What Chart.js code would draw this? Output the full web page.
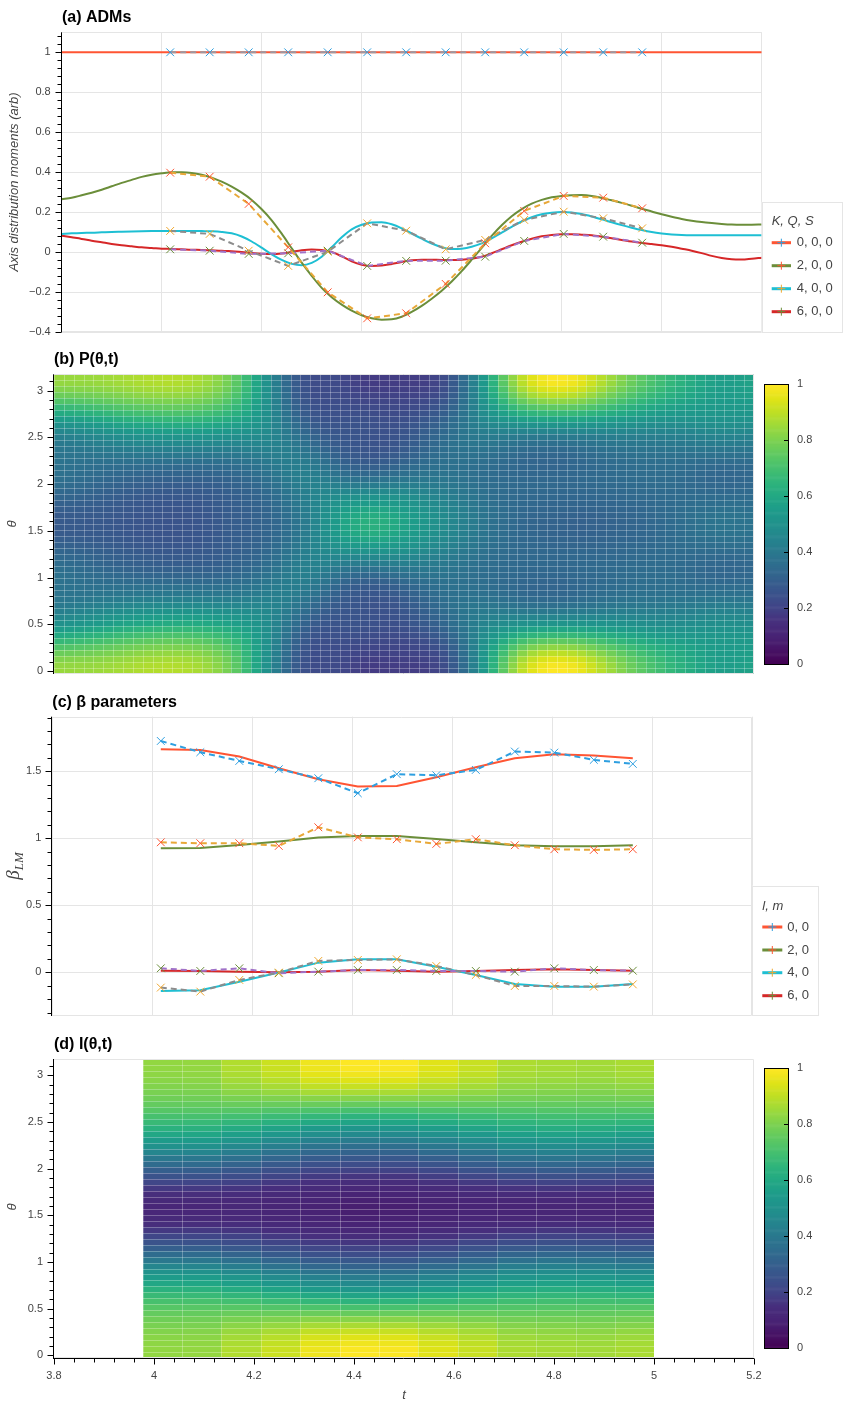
<!DOCTYPE html>
<html>
<head>
<meta charset="utf-8">
<title>ADMs, P(θ,t), β parameters, I(θ,t)</title>
<script src="https://cdn.jsdelivr.net/npm/chart.js@4.4.1/dist/chart.umd.min.js"></script>
<style>
  html, body { margin: 0; padding: 0; background: #fff; }
  #page { position: relative; width: 862px; height: 1405px; overflow: hidden; }
  #page canvas { position: absolute; left: 0; }
</style>
</head>
<body>
<div id="page">
  <canvas id="admChart" width="862" height="353" style="top:0px"></canvas>
  <canvas id="pChart" width="862" height="354" style="top:340px"></canvas>
  <canvas id="pBar" width="98" height="320" style="top:364px;left:764px"></canvas>
  <canvas id="betaChart" width="862" height="356" style="top:680px"></canvas>
  <canvas id="iChart" width="862" height="380" style="top:1025px"></canvas>
  <canvas id="iBar" width="98" height="321" style="top:1048px;left:764px"></canvas>
</div>
<script>
// ---- values ----

// (a) ADM curves, sampled every 0.02 in t
const tADM = [
  3.80, 3.82, 3.84, 3.86, 3.88, 3.90, 3.92, 3.94, 3.96, 3.98,
  4.00, 4.02, 4.04, 4.06, 4.08, 4.10, 4.12, 4.14, 4.16, 4.18,
  4.20, 4.22, 4.24, 4.26, 4.28, 4.30, 4.32, 4.34, 4.36, 4.38,
  4.40, 4.42, 4.44, 4.46, 4.48, 4.50, 4.52, 4.54, 4.56, 4.58,
  4.60, 4.62, 4.64, 4.66, 4.68, 4.70, 4.72, 4.74, 4.76, 4.78,
  4.80, 4.82, 4.84, 4.86, 4.88, 4.90, 4.92, 4.94, 4.96, 4.98,
  5.00, 5.02, 5.04, 5.06, 5.08, 5.10, 5.12, 5.14, 5.16, 5.18,
  5.20
];
const adm0 = tADM.map(() => 1);
const adm2 = [
  0.265, 0.273, 0.285, 0.298, 0.313, 0.330, 0.347, 0.362, 0.377, 0.388,
  0.395, 0.400, 0.400, 0.397, 0.388, 0.373, 0.353, 0.328, 0.298, 0.262,
  0.215, 0.160, 0.093, 0.020, -0.052, -0.118, -0.178, -0.225, -0.262, -0.292,
  -0.315, -0.330, -0.337, -0.335, -0.322, -0.298, -0.268, -0.232, -0.192, -0.146,
  -0.094, -0.037, 0.022, 0.082, 0.135, 0.180, 0.216, 0.243, 0.262, 0.275,
  0.282, 0.285, 0.286, 0.282, 0.272, 0.260, 0.247, 0.233, 0.218, 0.204,
  0.190, 0.178, 0.167, 0.158, 0.151, 0.146, 0.142, 0.139, 0.138, 0.138,
  0.139
];
const adm4 = [
  0.092, 0.095, 0.097, 0.098, 0.100, 0.102, 0.103, 0.104, 0.105, 0.106,
  0.107, 0.107, 0.107, 0.107, 0.106, 0.105, 0.102, 0.095, 0.079, 0.054,
  0.023, -0.010, -0.038, -0.058, -0.065, -0.053, -0.022, 0.025, 0.075, 0.115,
  0.138, 0.149, 0.150, 0.140, 0.120, 0.094, 0.068, 0.044, 0.026, 0.016,
  0.018, 0.028, 0.045, 0.070, 0.098, 0.127, 0.154, 0.175, 0.190, 0.198,
  0.202, 0.199, 0.191, 0.179, 0.165, 0.150, 0.136, 0.123, 0.111, 0.101,
  0.094, 0.089, 0.086, 0.085, 0.085, 0.085, 0.085, 0.085, 0.085, 0.085,
  0.085
];
const adm6 = [
  0.083, 0.075, 0.067, 0.058, 0.050, 0.042, 0.035, 0.030, 0.025, 0.022,
  0.018, 0.017, 0.015, 0.013, 0.012, 0.010, 0.008, 0.005, 0.002, -0.003,
  -0.007, -0.009, -0.006, 0.002, 0.010, 0.014, 0.012, 0.002, -0.020, -0.045,
  -0.062, -0.068, -0.066, -0.058, -0.048, -0.040, -0.037, -0.037, -0.038, -0.038,
  -0.037, -0.032, -0.022, -0.005, 0.015, 0.035, 0.053, 0.068, 0.080, 0.087,
  0.090, 0.090, 0.088, 0.085, 0.078, 0.070, 0.062, 0.054, 0.047, 0.041,
  0.035, 0.028, 0.018, 0.008, -0.004, -0.018, -0.029, -0.035, -0.036, -0.032,
  -0.027
];

// fitted values (x markers) at the measurement times
const tFit = [4.017, 4.096, 4.174, 4.253, 4.332, 4.411, 4.489, 4.568, 4.647, 4.725, 4.804, 4.883, 4.961];
const fit0 = [1, 1, 1, 1, 1, 1, 1, 1, 1, 1, 1, 1, 1];
const fit2 = [0.398, 0.378, 0.242, 0.025, -0.200, -0.330, -0.305, -0.158, 0.045, 0.207, 0.282, 0.273, 0.220];
const fit4 = [0.107, 0.092, 0.008, -0.068, 0.003, 0.145, 0.108, 0.015, 0.062, 0.162, 0.203, 0.170, 0.120];
const fit6 = [0.015, 0.008, -0.008, -0.005, 0.008, -0.068, -0.043, -0.042, -0.022, 0.057, 0.092, 0.078, 0.048];

// (c) beta parameters: model (solid) and fit (dashed, x markers)
const beta00 = [1.664, 1.659, 1.610, 1.522, 1.440, 1.386, 1.390, 1.455, 1.530, 1.597, 1.627, 1.617, 1.597];
const beta20 = [0.925, 0.928, 0.950, 0.975, 1.005, 1.017, 1.017, 0.995, 0.970, 0.948, 0.940, 0.940, 0.948];
const beta40 = [-0.139, -0.134, -0.070, -0.002, 0.072, 0.097, 0.097, 0.042, -0.020, -0.087, -0.107, -0.107, -0.087];
const beta60 = [0.012, 0.010, 0.005, 0.000, 0.005, 0.017, 0.012, 0.005, 0.010, 0.017, 0.022, 0.017, 0.012];
const betaFit00 = [1.726, 1.642, 1.577, 1.515, 1.448, 1.336, 1.478, 1.470, 1.510, 1.647, 1.639, 1.585, 1.555];
const betaFit20 = [0.970, 0.963, 0.963, 0.943, 1.082, 1.007, 0.993, 0.958, 0.993, 0.948, 0.918, 0.913, 0.918];
const betaFit40 = [-0.114, -0.144, -0.057, -0.002, 0.085, 0.092, 0.097, 0.047, -0.020, -0.102, -0.102, -0.107, -0.090];
const betaFit60 = [0.030, 0.010, 0.030, -0.007, 0.005, 0.017, 0.017, 0.010, 0.010, 0.005, 0.030, 0.017, 0.012];

// ticks and labels
const tTicks = [3.8, 4, 4.2, 4.4, 4.6, 4.8, 5, 5.2];
const admTicks = [-0.4, -0.2, 0, 0.2, 0.4, 0.6, 0.8, 1];
const thetaTicks = [0, 0.5, 1, 1.5, 2, 2.5, 3];
const betaTicks = [0, 0.5, 1, 1.5];
const barTicks = [0, 0.2, 0.4, 0.6, 0.8, 1];
const admLabels = ['0, 0, 0', '2, 0, 0', '4, 0, 0', '6, 0, 0'];
const betaLabels = ['0, 0', '2, 0', '4, 0', '6, 0'];
const degrees = [0, 2, 4, 6];

// ---- styling ----
const FONT = "'Liberation Sans', Arial, Helvetica, sans-serif";
const GRID = '#e5e5e5';
const C = {
  line: ['#ff5533', '#6b8e3a', '#1ebfd3', '#d62728'],
  dashA: ['#9a9aa4', '#e8a838', '#8c8c8c', '#a072c8'],
  dashB: ['#2e9fe0', '#e8a838', '#8c8c8c', '#a072c8'],
  mark: ['#2e9fe0', '#ff5533', '#f0a830', '#6b8e3a']
};
const VIR = ['#440154', '#471365', '#482475', '#472f7d', '#414487', '#3b528b', '#355f8d',
  '#2f6c8e', '#2a788e', '#25858e', '#21918c', '#1e9b8a', '#22a884', '#2fb47c', '#44bf70',
  '#5ec962', '#7ad151', '#9bd93c', '#bddf26', '#dfe318', '#fde725'];

Chart.defaults.font.family = FONT;
Chart.defaults.font.size = 11;
Chart.defaults.color = '#444';

function hexRgb(h) { return [1, 3, 5].map(i => parseInt(h.substr(i, 2), 16)); }
function viridis(v) {
  v = Math.min(1, Math.max(0, v));
  const f = v * (VIR.length - 1);
  const i = Math.min(VIR.length - 2, Math.floor(f));
  const u = f - i, a = hexRgb(VIR[i]), b = hexRgb(VIR[i + 1]);
  return 'rgb(' + a.map((c, k) => Math.round(c + (b[k] - c) * u)).join(',') + ')';
}

function pts(xs, ys) { return xs.map((x, i) => ({ x: x, y: ys[i] })); }
function fmt(v) { return String(Math.round(v * 100) / 100).replace('-', '\u2212'); }
function fixedTicks(values) { return function (scale) { scale.ticks = values.map(v => ({ value: v })); }; }

// ---- heat map tables built from the coefficient arrays ----
function legendre(l, x) {
  let p0 = 1, p1 = x;
  if (l === 0) return 1;
  for (let n = 1; n < l; n++) { const p2 = ((2 * n + 1) * x * p1 - n * p0) / (n + 1); p0 = p1; p1 = p2; }
  return p1;
}
function edges(c) {
  const e = [c[0] - (c[1] - c[0]) / 2];
  for (let i = 0; i < c.length - 1; i++) e.push((c[i] + c[i + 1]) / 2);
  e.push(c[c.length - 1] + (c[c.length - 1] - c[c.length - 2]) / 2);
  return e;
}
const thetaGrid = [];
for (let j = 0; j < 50; j++) thetaGrid.push(j * Math.PI / 49);

function angularTable(times, coefs) {
  let vmax = 0;
  const cols = times.map((t, i) => thetaGrid.map(th => {
    const x = Math.cos(th);
    const v = degrees.reduce((s, L, k) => s + Math.sqrt(2 * L + 1) * coefs[k][i] * legendre(L, x), 0);
    vmax = Math.max(vmax, v);
    return v;
  }));
  return { ex: edges(times), ey: edges(thetaGrid), val: cols.map(c => c.map(v => v / vmax)) };
}
const heatP = angularTable(tADM, [adm0, adm2, adm4, adm6]);
const heatI = angularTable(tFit, [beta00, beta20, beta40, beta60]);
const thetaMin = heatP.ey[0], thetaMax = heatP.ey[heatP.ey.length - 1];

// ---- panel decorations (page coordinates) ----
const panels = {
  admChart: {
    top: 0, outline: true,
    title: { text: '(a) ADMs', x: 62, y: 18 },
    yAxis: { majors: admTicks, minorStep: 0.04 },
    yLabel: { text: 'Axis distribution moments (arb)', x: 14, y: 182 },
    legend: { box: [761.7, 201.7, 842.3, 332.3], title: 'K, Q, S', x: 771.7, titleY: 221,
      rowY: [242.7, 265.7, 288.7, 311.7], lineEnd: 791, textX: 796.7, labels: admLabels }
  },
  pChart: {
    top: 340, outline: true, heat: heatP,
    title: { text: '(b) P(\u03b8,t)', x: 54, y: 360 },
    yAxis: { majors: thetaTicks, minorStep: 0.1 },
    yLabel: { text: '\u03b8', x: 12, y: 524 }
  },
  pBar: { top: 364, colorbar: true },
  betaChart: {
    top: 680, outline: true,
    title: { text: '(c) \u03b2 parameters', x: 52.3, y: 702.7 },
    yAxis: { majors: betaTicks, minorStep: 0.1 },
    betaLabel: { x: 14, y: 866 },
    legend: { box: [752.3, 885.7, 819, 1016], title: 'l, m', x: 762.3, titleY: 906,
      rowY: [927, 950, 972.7, 995.7], lineEnd: 782.3, textX: 787.3, labels: betaLabels }
  },
  iChart: {
    top: 1025, outline: true, heat: heatI,
    title: { text: '(d) I(\u03b8,t)', x: 54, y: 1045 },
    yAxis: { majors: thetaTicks, minorStep: 0.1 },
    xAxis: { majors: tTicks, minorStep: 0.04 },
    yLabel: { text: '\u03b8', x: 12, y: 1207 },
    xLabel: { text: 't', x: 404, y: 1395.7 }
  },
  iBar: { top: 1048, colorbar: true }
};

function minorValues(min, max, step, majors) {
  const out = [];
  const n0 = Math.ceil(min / step - 1e-6), n1 = Math.floor(max / step + 1e-6);
  for (let n = n0; n <= n1; n++) {
    const v = n * step;
    if (!majors.some(m => Math.abs(m - v) < 1e-6)) out.push(v);
  }
  return out;
}

function drawHeat(chart, h) {
  const ctx = chart.ctx, a = chart.chartArea, xs = chart.scales.x, ys = chart.scales.y;
  const px = h.ex.map(v => Math.round(xs.getPixelForValue(v)));
  const py = h.ey.map(v => Math.round(ys.getPixelForValue(v)));
  ctx.save();
  ctx.beginPath(); ctx.rect(a.left, a.top, a.width, a.height); ctx.clip();
  h.val.forEach((col, i) => {
    col.forEach((v, j) => {
      ctx.fillStyle = viridis(v);
      ctx.fillRect(px[i], py[j + 1], px[i + 1] - px[i], py[j] - py[j + 1]);
    });
  });
  ctx.strokeStyle = 'rgba(255,255,255,0.28)';
  ctx.lineWidth = 1;
  ctx.beginPath();
  px.forEach(x => { ctx.moveTo(x + 0.5, py[py.length - 1]); ctx.lineTo(x + 0.5, py[0]); });
  py.forEach(y => { ctx.moveTo(px[0], y + 0.5); ctx.lineTo(px[px.length - 1], y + 0.5); });
  ctx.stroke();
  ctx.restore();
}

function drawLegend(ctx, L, top) {
  const [x0, y0, x1, y1] = L.box;
  ctx.fillStyle = '#fff';
  ctx.fillRect(x0, y0 - top, x1 - x0, y1 - y0);
  ctx.strokeStyle = GRID; ctx.lineWidth = 1;
  ctx.strokeRect(Math.round(x0) + 0.5, Math.round(y0 - top) + 0.5, Math.round(x1 - x0) - 1, Math.round(y1 - y0) - 1);
  ctx.textAlign = 'left'; ctx.textBaseline = 'middle'; ctx.fillStyle = '#444';
  ctx.font = 'italic 13px ' + FONT;
  ctx.fillText(L.title, L.x, L.titleY - top);
  ctx.font = '13px ' + FONT;
  L.labels.forEach((lab, i) => {
    const y = L.rowY[i] - top, mx = (L.x + L.lineEnd) / 2;
    ctx.strokeStyle = C.line[i]; ctx.lineWidth = 3;
    ctx.beginPath(); ctx.moveTo(L.x, y); ctx.lineTo(L.lineEnd, y); ctx.stroke();
    ctx.strokeStyle = C.mark[i]; ctx.lineWidth = 1;
    ctx.beginPath(); ctx.moveTo(mx - 4, y); ctx.lineTo(mx + 4, y); ctx.moveTo(mx, y - 4); ctx.lineTo(mx, y + 4); ctx.stroke();
    ctx.fillStyle = '#444';
    ctx.fillText(lab, L.textX, y);
  });
}

function drawColorbar(chart) {
  const ctx = chart.ctx, a = chart.chartArea, ys = chart.scales.y;
  for (let k = 0; k < 256; k++) {
    const yA = ys.getPixelForValue(k / 256), yB = ys.getPixelForValue((k + 1) / 256);
    ctx.fillStyle = viridis(k / 255);
    ctx.fillRect(a.left, yB, a.width, yA - yB + 0.6);
  }
}

const decor = {
  id: 'decor',
  beforeDatasetsDraw(chart) {
    const p = panels[chart.canvas.id];
    if (!p) return;
    const ctx = chart.ctx, a = chart.chartArea;
    if (p.heat) drawHeat(chart, p.heat);
    if (p.colorbar) drawColorbar(chart);
    if (p.outline) {
      ctx.save();
      ctx.strokeStyle = GRID; ctx.lineWidth = 1;
      const l = Math.round(a.left), r = Math.round(a.right) - 0.5, t = Math.round(a.top) + 0.5, b = Math.round(a.bottom) - 0.5;
      ctx.beginPath(); ctx.moveTo(l, t); ctx.lineTo(r, t); ctx.lineTo(r, b); ctx.lineTo(l, b); ctx.stroke();
      ctx.restore();
    }
  },
  afterDraw(chart) {
    const p = panels[chart.canvas.id];
    if (!p) return;
    const ctx = chart.ctx, a = chart.chartArea;
    ctx.save();
    ctx.strokeStyle = '#000'; ctx.lineWidth = 1;
    if (p.yAxis) {
      const ys = chart.scales.y, x = Math.round(a.left) - 0.5;
      ctx.beginPath(); ctx.moveTo(x, a.top); ctx.lineTo(x, a.bottom);
      p.yAxis.majors.forEach(v => { const y = Math.round(ys.getPixelForValue(v)) + 0.5; ctx.moveTo(x - 6, y); ctx.lineTo(x, y); });
      minorValues(ys.min, ys.max, p.yAxis.minorStep, p.yAxis.majors).forEach(v => {
        const y = Math.round(ys.getPixelForValue(v)) + 0.5; ctx.moveTo(x - 4, y); ctx.lineTo(x, y);
      });
      ctx.stroke();
    }
    if (p.xAxis) {
      const xs = chart.scales.x, y = Math.round(a.bottom) + 0.5;
      ctx.beginPath(); ctx.moveTo(a.left - 1, y); ctx.lineTo(a.right, y);
      p.xAxis.majors.forEach(v => { const x = Math.round(xs.getPixelForValue(v)) + 0.5; ctx.moveTo(x, y); ctx.lineTo(x, y + 6); });
      minorValues(xs.min, xs.max, p.xAxis.minorStep, p.xAxis.majors).forEach(v => {
        const x = Math.round(xs.getPixelForValue(v)) + 0.5; ctx.moveTo(x, y); ctx.lineTo(x, y + 4);
      });
      ctx.stroke();
    }
    if (p.colorbar) {
      const ys = chart.scales.y;
      ctx.strokeRect(Math.round(a.left) + 0.5, Math.round(a.top) + 0.5, Math.round(a.width) - 1, Math.round(a.height));
      ctx.beginPath();
      barTicks.forEach(v => { const y = Math.round(ys.getPixelForValue(v)) + 0.5; ctx.moveTo(a.right - 5, y); ctx.lineTo(a.right, y); });
      ctx.stroke();
    }
    ctx.textBaseline = 'middle';
    if (p.title) {
      ctx.fillStyle = '#000'; ctx.textAlign = 'left'; ctx.font = 'bold 16px ' + FONT;
      ctx.fillText(p.title.text, p.title.x, p.title.y - p.top);
    }
    ctx.fillStyle = '#444';
    if (p.yLabel) {
      ctx.save();
      ctx.translate(p.yLabel.x, p.yLabel.y - p.top); ctx.rotate(-Math.PI / 2);
      ctx.textAlign = 'center'; ctx.font = 'italic 13px ' + FONT;
      ctx.fillText(p.yLabel.text, 0, 0);
      ctx.restore();
    }
    if (p.betaLabel) {
      ctx.save();
      ctx.translate(p.betaLabel.x, p.betaLabel.y - p.top); ctx.rotate(-Math.PI / 2);
      const f1 = "italic 19px 'Liberation Serif', 'DejaVu Serif', serif";
      const f2 = "italic 13px 'Liberation Serif', 'DejaVu Serif', serif";
      ctx.textAlign = 'left'; ctx.textBaseline = 'alphabetic';
      ctx.font = f1; const w1 = ctx.measureText('\u03b2').width;
      ctx.font = f2; const w2 = ctx.measureText('LM').width;
      const x0 = -(w1 + w2) / 2;
      ctx.font = f1; ctx.fillText('\u03b2', x0, 5);
      ctx.font = f2; ctx.fillText('LM', x0 + w1, 9);
      ctx.restore();
    }
    if (p.xLabel) {
      ctx.textAlign = 'center'; ctx.font = 'italic 13px ' + FONT;
      ctx.fillText(p.xLabel.text, p.xLabel.x, p.xLabel.y - p.top);
    }
    if (p.legend) drawLegend(ctx, p.legend, p.top);
    ctx.restore();
  }
};

// ---- shared option builders ----
function gridX(min, max) {
  return {
    type: 'linear', min: min, max: max,
    afterBuildTicks: fixedTicks(tTicks), afterFit: s => { s.height = 0; },
    ticks: { display: false }, grid: { color: GRID, drawTicks: false }, border: { display: false }
  };
}
function leftY(min, max, ticks, width, grid) {
  return {
    type: 'linear', min: min, max: max,
    afterBuildTicks: fixedTicks(ticks), afterFit: s => { s.width = width; },
    ticks: { autoSkip: false, padding: 11, callback: v => fmt(v) },
    grid: { display: grid, color: GRID, drawTicks: false }, border: { display: false }
  };
}
function baseOptions(padding, scales) {
  return {
    responsive: false, animation: false, events: [],
    layout: { padding: padding },
    plugins: { legend: { display: false }, tooltip: { enabled: false } },
    scales: scales
  };
}
function solidSet(label, xs, ys, color, smooth) {
  return {
    label: label, data: pts(xs, ys), borderColor: color, borderWidth: 2,
    pointRadius: 0, tension: smooth ? 0.4 : 0, cubicInterpolationMode: smooth ? 'monotone' : 'default', order: 2
  };
}
function fitSet(label, xs, ys, dash, mark) {
  return {
    label: label, data: pts(xs, ys), borderColor: dash, borderWidth: 2, borderDash: [6, 4],
    tension: 0, pointStyle: 'crossRot', pointRadius: 5.5, pointBorderColor: mark,
    pointBackgroundColor: mark, pointBorderWidth: 1, order: 1
  };
}

// (a) ADMs
const admSeries = [adm0, adm2, adm4, adm6];
const admFits = [fit0, fit2, fit4, fit6];
new Chart(document.getElementById('admChart'), {
  type: 'line',
  data: {
    datasets: admSeries.map((s, i) => solidSet(admLabels[i], tADM, s, C.line[i], true))
      .concat(admFits.map((s, i) => fitSet(admLabels[i] + ' fit', tFit, s, C.dashA[i], C.mark[i])))
  },
  options: baseOptions({ top: 32.3, right: 100.3, bottom: 20.7, left: 0 },
    { x: gridX(3.8, 5.2), y: leftY(-0.4, 1.1, admTicks, 61.7, true) }),
  plugins: [decor]
});

// (b) P(theta, t)
new Chart(document.getElementById('pChart'), {
  type: 'line',
  data: { datasets: [] },
  options: baseOptions({ top: 34.3, right: 108, bottom: 20, left: 0 }, {
    x: { type: 'linear', min: heatP.ex[0], max: heatP.ex[heatP.ex.length - 1], display: false },
    y: leftY(thetaMin, thetaMax, thetaTicks, 54, false)
  }),
  plugins: [decor]
});

function colorbarChart(id, bottomPad) {
  new Chart(document.getElementById(id), {
    type: 'line',
    data: { datasets: [] },
    options: baseOptions({ top: 20.3, right: 0, bottom: bottomPad, left: 0 }, {
      x: { type: 'linear', min: 0, max: 1, display: false },
      y: {
        type: 'linear', position: 'right', min: 0, max: 1,
        afterBuildTicks: fixedTicks(barTicks), afterFit: s => { s.width = 73; },
        ticks: { autoSkip: false, padding: 8, callback: v => fmt(v) },
        grid: { display: false, drawTicks: false }, border: { display: false }
      }
    }),
    plugins: [decor]
  });
}
colorbarChart('pBar', 20);

// (c) beta parameters
const betaSeries = [beta00, beta20, beta40, beta60];
const betaFits = [betaFit00, betaFit20, betaFit40, betaFit60];
new Chart(document.getElementById('betaChart'), {
  type: 'line',
  data: {
    datasets: betaSeries.map((s, i) => solidSet(betaLabels[i], tFit, s, C.line[i], false))
      .concat(betaFits.map((s, i) => fitSet(betaLabels[i] + ' fit', tFit, s, C.dashB[i], C.mark[i])))
  },
  options: baseOptions({ top: 36.7, right: 109.7, bottom: 20, left: 0 },
    { x: gridX(3.8, 5.2), y: leftY(-0.326, 1.907, betaTicks, 52.3, true) }),
  plugins: [decor]
});

// (d) I(theta, t)
new Chart(document.getElementById('iChart'), {
  type: 'line',
  data: { datasets: [] },
  options: baseOptions({ top: 34, right: 108, bottom: 0, left: 0 }, {
    x: {
      type: 'linear', min: 3.8, max: 5.2,
      afterBuildTicks: fixedTicks(tTicks), afterFit: s => { s.height = 46.7; },
      ticks: { autoSkip: false, padding: 11, maxRotation: 0, callback: v => fmt(v) },
      grid: { display: false, drawTicks: false }, border: { display: false }
    },
    y: leftY(thetaMin, thetaMax, thetaTicks, 54, false)
  }),
  plugins: [decor]
});
colorbarChart('iBar', 20.7);
</script>
</body>
</html>
